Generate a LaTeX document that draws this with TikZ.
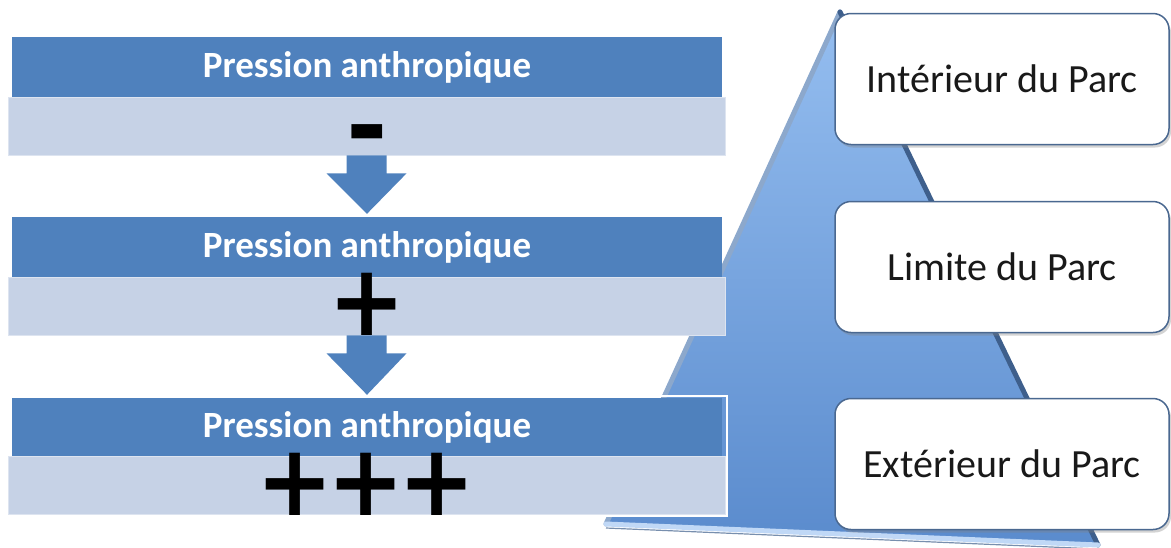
\documentclass[tikz,border=0pt]{standalone}
\usepackage{fontspec}
\setmainfont{Carlito}
\newfontfamily\signfont{DejaVu Sans}
\usetikzlibrary{shadows,calc}
\definecolor{dblue}{HTML}{4F81BD}
\definecolor{lband}{HTML}{C6D2E6}
\definecolor{pyrtop}{HTML}{95BEF0}
\definecolor{pyrbot}{HTML}{5A8BCD}
\definecolor{pyrdark}{HTML}{3E5F8C}
\definecolor{pyrlight}{HTML}{8CA8CC}
\definecolor{boxedge}{HTML}{4A6890}
\tikzset{
  darkband/.style={fill=dblue, draw=none, minimum width=710pt, minimum height=60pt, inner sep=0pt},
  bandtitle/.style={inner sep=0pt, text=white, font=\bfseries\fontsize{37}{40}\selectfont},
  lightband/.style={fill=lband, draw=lband!60!white, line width=0.8pt, minimum width=717pt, minimum height=58pt, inner sep=0pt},
  blockarrow/.style={fill=dblue, draw=none},
  sign/.style={inner sep=0pt, anchor=base, text=black, font=\signfont\bfseries\fontsize{92}{92}\selectfont},
  bigsign/.style={sign, yscale=1.08, transform shape, text height=54pt, text depth=0pt},
  parcbox/.style={rounded corners=16pt, draw=boxedge, line width=1.5pt, fill=white,
    minimum width=334pt, minimum height=131pt, inner sep=0pt,
    drop shadow={opacity=0.35, shadow xshift=2pt, shadow yshift=-3pt},
    text=black!90, font=\fontsize{40}{44}\selectfont}
}
\begin{document}
\begin{tikzpicture}[x=1pt,y=-1pt]
\useasboundingbox (0,0) rectangle (1171,547);
% pyramid
\coordinate (apex) at (840,12);
\coordinate (bl) at (606,524);
\coordinate (br) at (1098,545);
\shade[top color=pyrtop, bottom color=pyrbot] (apex) -- (bl) -- (br) -- cycle;
\draw[pyrlight, line width=5pt, line cap=round] (bl) -- (apex);
\draw[pyrdark, line width=5pt, line cap=round] (apex) -- (br);
\draw[pyrtop!60!white, line width=5pt, line cap=round] (bl) -- (br);
\draw[pyrdark!70!white, line width=1.2pt] ($(bl)+(0,4)$) -- ($(br)+(0,4)$);
% bands
\node[darkband] (d1) at (367,67) {};
\node[bandtitle] (t1) at (d1.center) {Pression anthropique};
\node[lightband] (l1) at (366.5,126) {};
\node[darkband] (d2) at (367,247) {};
\node[bandtitle] (t2) at (d2.center) {Pression anthropique};
\node[lightband] (l2) at (366.5,306) {};
\draw[white, line width=2.5pt] (7,396) rectangle (727,516);
\node[darkband, minimum height=58pt] (d3) at (367,427) {};
\node[bandtitle] (t3) at (d3.center) {Pression anthropique};
\node[lightband] (l3) at (366.5,485) {};
% signs
\node[sign, font=\signfont\bfseries\fontsize{100}{100}\selectfont] (minus) at (367,160) {-};
\node[bigsign] (plus) at (367,335) {+};
\node[bigsign] (plus3) at (366,515) {+\kern-6pt+\kern-6pt+};
% block arrows
\fill[blockarrow] ($(l1.south)+(-20,0)$) -- ($(l1.south)+(-20,18)$) -- ($(l1.south)+(-40,18)$)
  -- ($(d2.north)+(0,-3)$) -- ($(l1.south)+(40,18)$) -- ($(l1.south)+(20,18)$) -- ($(l1.south)+(20,0)$) -- cycle;
\fill[blockarrow] ($(l2.south)+(-20,0)$) -- ($(l2.south)+(-20,18)$) -- ($(l2.south)+(-40,18)$)
  -- ($(d3.north)+(0,-3)$) -- ($(l2.south)+(40,18)$) -- ($(l2.south)+(20,18)$) -- ($(l2.south)+(20,0)$) -- cycle;
% boxes
\node[parcbox] (int) at (1002,79) {Intérieur du Parc};
\node[parcbox] (lim) at (1002,267) {Limite du Parc};
\node[parcbox] (ext) at (1002,464) {Extérieur du Parc};
\end{tikzpicture}
\end{document}
